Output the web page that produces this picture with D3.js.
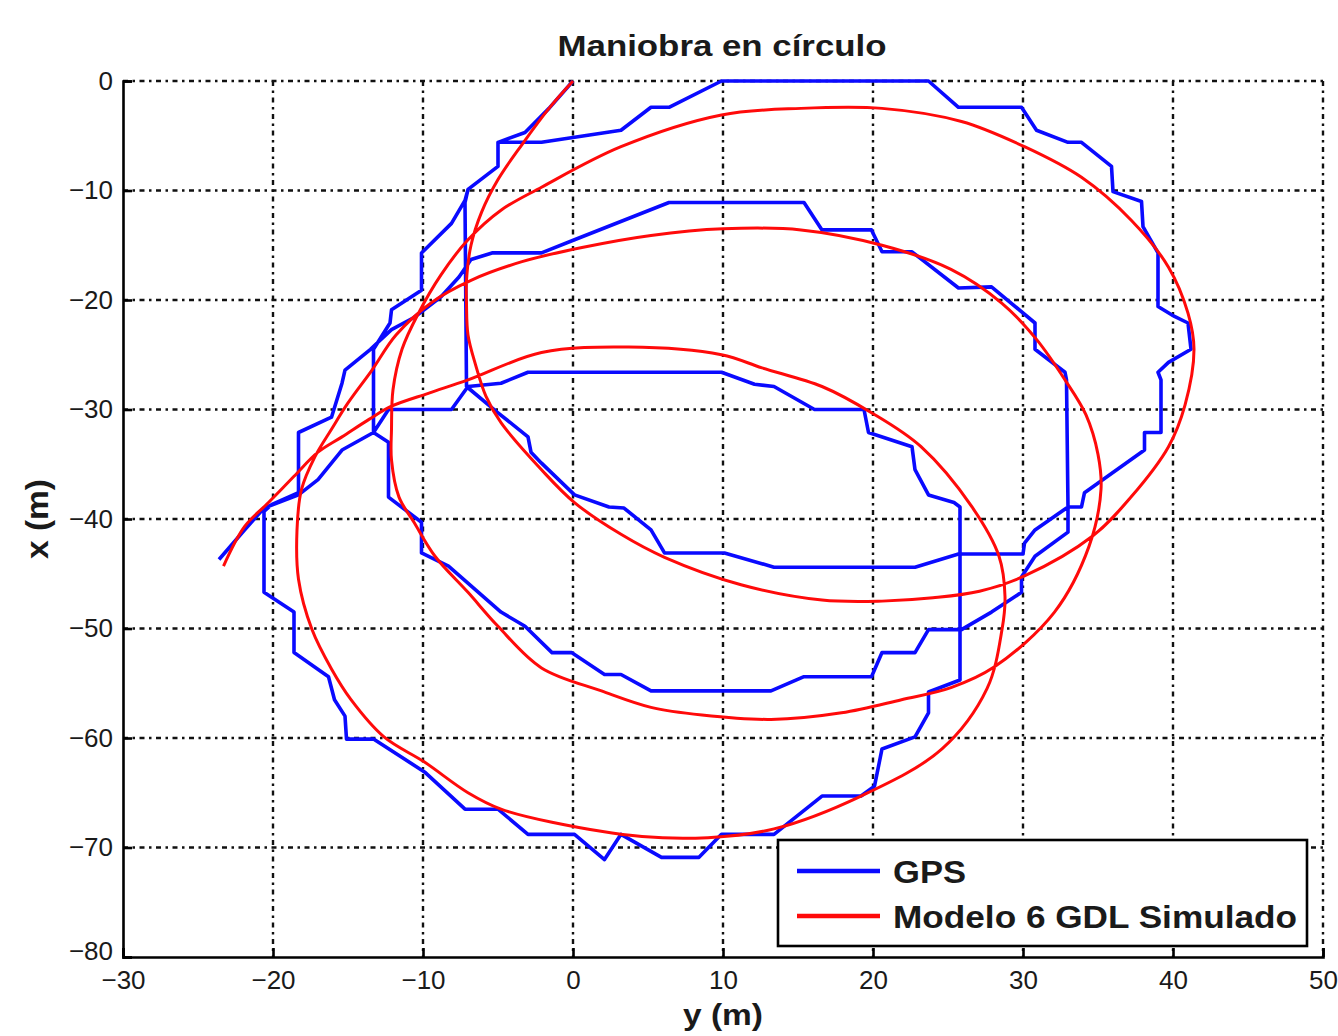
<!DOCTYPE html>
<html><head><meta charset="utf-8">
<script src="https://cdn.jsdelivr.net/npm/d3@7"></script>
<style>
html,body{margin:0;padding:0;background:#fff;}
svg text{font-family:"Liberation Sans",Arial,sans-serif;}
</style></head>
<body><svg id="c" width="1338" height="1036"></svg>
<script>
// ---- data: horizontal axis = y (m), vertical axis = x (m)
const title = "Maniobra en círculo";
const xLabel = "y (m)";
const yLabel = "x (m)";
const seriesNames = ["GPS", "Modelo 6 GDL Simulado"];
const yTicks = [-30,-20,-10,0,10,20,30,40,50];
const xTicks = [-80,-70,-60,-50,-40,-30,-20,-10,0];

const gpsY = [0,-1.6,-3.2,-5.0,-5.0,-7.0,-7.2,-7.1,-5.0,-3.0,-2.8,-2.1,0.1,2.4,3.4,5.2,6.1,10.1,13.4,22.8,25.7,30.0,30.1,30.8,33.0,33.9,34.1,38.1,38.1,39.2,39.2,39.0,39.7,41.2,41.0,40.1,39.0,39.0,38.0,37.9,36.0,35.9,33.9,33.0,30.9,29.9,25.7,23.7,9.9,6.4,5.2,3.2,-2.1,-5.0,-5.0,-7.0,-7.2,-8.1,-10.1,-10.1,-12.1,-12.2,-13.3,-13.3,-12.3,-12.3,-10.1,-10.1,-8.3,-4.8,-3.2,-1.4,-0.1,2.1,3.2,5.2,13.2,15.4,19.9,20.6,22.8,23.7,25.9,27.9,29.9,29.9,30.8,33.0,33.0,32.9,32.8,30.8,30.8,27.9,25.7,22.6,20.6,19.9,16.6,15.4,6.4,0.1,-2.1,-5.4,-6.8,-7.6,-8.8,-10.6,-12.1,-13.5,-15.2,-15.4,-16.1,-18.3,-18.3,-20.1,-20.6,-20.6,-18.6,-18.6,-16.3,-15.9,-15.2,-15.1,-13.3,-9.9,-7.2,-5.0,-3.0,0.1,2.1,3.2,5.9,8.4,9.9,13.4,16.6,19.2,20.1,20.6,22.8,23.7,23.7,25.8,25.8,25.4,23.7,22.8,22.6,19.7,19.4,16.1,13.4,12.1,9.9,-3.0,-4.8,-7.0,-8.1,-12.3,-13.3,-15.4,-17.0,-18.3,-20.6,-21.9,-23.6];
const gpsX = [0,-2.5,-4.7,-5.6,-7.8,-9.9,-11.1,-27.9,-30.3,-32.5,-33.9,-34.9,-37.8,-38.9,-39.0,-41.0,-43.1,-43.1,-44.4,-44.4,-43.2,-43.2,-42.2,-41.0,-38.9,-38.9,-37.6,-33.7,-32.1,-32.1,-27.3,-26.6,-25.7,-24.5,-22.1,-21.5,-20.6,-15.7,-13.3,-11.0,-10.1,-7.8,-5.6,-5.6,-4.5,-2.4,-2.4,0,0,-2.4,-2.4,-4.5,-5.6,-5.6,-7.8,-9.9,-10.9,-13.0,-15.7,-19.1,-20.9,-22.1,-24.5,-32.1,-33.0,-38.0,-40.3,-43.1,-44.3,-48.5,-49.8,-52.2,-52.2,-54.2,-54.2,-55.7,-55.7,-54.4,-54.4,-52.2,-52.2,-50.1,-50.1,-48.5,-46.7,-45.3,-43.4,-41.2,-38.9,-27.3,-26.6,-24.5,-22.1,-18.8,-18.9,-15.6,-15.6,-13.6,-13.6,-11.1,-11.1,-14.5,-15.7,-15.7,-16.3,-17.9,-19.7,-21.6,-22.7,-24.5,-26.4,-27.6,-30.7,-32.1,-37.6,-38.7,-39.3,-46.7,-48.5,-52.2,-54.4,-56.5,-58.0,-60.1,-60.1,-63.1,-66.5,-66.5,-68.8,-68.8,-71.1,-68.8,-70.9,-70.9,-68.8,-68.8,-65.3,-65.3,-64.4,-61.0,-59.9,-57.7,-55.8,-54.7,-38.9,-38.5,-37.8,-35.5,-33.4,-32.1,-30.0,-30.0,-27.9,-27.7,-26.6,-26.6,-27.6,-27.9,-30.0,-30.0,-32.1,-33.7,-36.4,-37.8,-39.0,-41.0,-43.7];

const simY = [0.0,-1.6,-3.4,-5.0,-6.1,-6.8,-7.1,-7.1,-7.0,-6.5,-5.8,-4.8,-2.1,0.1,3.2,6.1,11.2,16.6,20.6,24.0,27.1,30.1,34.6,37.2,39.7,40.8,41.4,41.0,39.7,37.2,33.9,30.1,25.9,20.6,15.2,9.9,3.2,-2.1,-4.8,-7.0,-8.8,-10.3,-11.4,-12.0,-12.1,-12.1,-11.6,-10.6,-9.2,-7.0,-5.0,-2.1,1.9,5.2,8.6,13.2,17.9,21.9,25.2,28.1,32.1,34.4,35.2,35.0,34.2,32.8,30.9,28.6,25.2,20.6,15.2,10.0,5.2,0.6,-3.4,-6.8,-9.4,-11.8,-13.4,-15.0,-16.1,-17.2,-18.1,-18.4,-18.3,-17.4,-16.1,-14.8,-12.6,-9.9,-7.0,-4.8,-1.4,4.6,9.0,13.4,19.2,24.6,27.6,28.6,28.8,28.4,26.6,23.2,19.9,16.6,12.6,9.9,3.7,-2.1,-7.0,-9.6,-12.1,-13.6,-15.4,-17.0,-18.6,-20.3,-21.9,-23.3];
const simX = [0.0,-2.5,-5.8,-9.0,-12.0,-15.0,-18.2,-20.4,-23.2,-25.9,-28.8,-31.2,-35.5,-38.5,-41.4,-43.5,-46.0,-47.4,-47.5,-47.2,-46.6,-45.2,-41.6,-38.0,-33.4,-29.6,-24.5,-21.2,-17.0,-12.7,-8.8,-6.0,-3.7,-2.5,-2.5,-3.1,-6.0,-9.7,-11.8,-14.5,-17.7,-21.2,-24.5,-28.2,-31.8,-34.6,-38.0,-40.3,-43.4,-46.7,-49.8,-53.6,-55.7,-57.2,-57.9,-58.3,-57.7,-56.5,-55.4,-53.5,-48.5,-42.5,-37.3,-34.1,-30.5,-27.3,-23.6,-20.3,-17.2,-15.0,-13.6,-13.5,-14.1,-15.2,-16.5,-18.2,-20.2,-23.2,-26.4,-29.4,-31.8,-34.3,-37.3,-41.0,-45.5,-50.1,-53.7,-56.5,-59.9,-62.2,-65.0,-66.5,-67.7,-69.0,-69.1,-68.3,-65.3,-61.0,-55.5,-50.1,-47.1,-43.4,-38.9,-33.4,-30.3,-27.9,-26.2,-25.0,-24.3,-24.8,-27.3,-28.5,-29.7,-30.9,-32.5,-33.9,-36.1,-38.5,-40.7,-44.3];

// ---- drawing
const L = 123, R = 1323, T = 81, B = 957;
const svg = d3.select("#c");
const sx = d3.scaleLinear().domain([-30,50]).range([L,R]);
const sy = d3.scaleLinear().domain([-80,0]).range([B,T]);

// grid (dash-dot dotted look)
const grid = svg.append("g").attr("stroke","#111").attr("stroke-width",2.4)
  .attr("stroke-dasharray","5,4.5,2.5,4.5");
grid.selectAll(".gv").data(yTicks.filter(d=>d>-30)).join("line")
  .attr("x1",d=>sx(d)).attr("x2",d=>sx(d)).attr("y1",T).attr("y2",B);
grid.selectAll(".gh").data(xTicks.filter(d=>d>-80)).join("line")
  .attr("y1",d=>sy(d)).attr("y2",d=>sy(d)).attr("x1",L).attr("x2",R);

// series
const pts = (ys,xs)=>ys.map((v,i)=>[v,xs[i]]);
svg.append("path").datum(pts(gpsY,gpsX))
  .attr("fill","none").attr("stroke","#0a0aff").attr("stroke-width",3.6)
  .attr("stroke-linejoin","round")
  .attr("d", d3.line().x(d=>sx(d[0])).y(d=>sy(d[1])));
svg.append("path").datum(pts(simY,simX))
  .attr("fill","none").attr("stroke","#ff0a0a").attr("stroke-width",3)
  .attr("d", d3.line().curve(d3.curveCatmullRom.alpha(0.5)).x(d=>sx(d[0])).y(d=>sy(d[1])));

// axes
const fmt = d=> d<0 ? "\u2212"+Math.abs(d) : String(d);
const ax = svg.append("g").attr("transform",`translate(0,${B})`)
  .call(d3.axisBottom(sx).tickValues(yTicks).tickSize(-9).tickPadding(14).tickFormat(fmt));
const ay = svg.append("g").attr("transform",`translate(${L},0)`)
  .call(d3.axisLeft(sy).tickValues(xTicks).tickSize(-9).tickPadding(10).tickFormat(fmt));
[ax,ay].forEach(g=>{
  g.select(".domain").attr("stroke","#000").attr("stroke-width",2.6);
  g.selectAll(".tick line").attr("stroke","#000").attr("stroke-width",2.6);
  g.selectAll(".tick text").attr("font-size",26).attr("fill","#1a1a1a")
    .attr("font-family","Liberation Sans, Arial, sans-serif");
});
ax.selectAll(".tick text").attr("dy","0.71em");
ay.selectAll(".tick text").filter(d=>d===-80).attr("dy","0.1em");

// titles
svg.append("text").attr("x",722).attr("y",56).attr("text-anchor","middle")
  .attr("font-size",30).attr("font-weight","bold").attr("fill","#1a1a1a")
  .attr("textLength",329).attr("lengthAdjust","spacingAndGlyphs").text(title);
svg.append("text").attr("x",723).attr("y",1025).attr("text-anchor","middle")
  .attr("font-size",29).attr("font-weight","bold").attr("fill","#1a1a1a")
  .attr("textLength",80).attr("lengthAdjust","spacingAndGlyphs").text(xLabel);
svg.append("text").attr("transform",`translate(48,${(T+B)/2}) rotate(-90)`).attr("text-anchor","middle")
  .attr("font-size",31).attr("font-weight","bold").attr("fill","#1a1a1a")
  .attr("textLength",80).attr("lengthAdjust","spacingAndGlyphs").text(yLabel);

// legend
const lg = svg.append("g");
lg.append("rect").attr("x",778).attr("y",840).attr("width",529).attr("height",106)
  .attr("fill","#fff").attr("stroke","#000").attr("stroke-width",2.6);
const colors = ["#0a0aff","#ff0a0a"];
const legendWidths = [73, 404];
seriesNames.forEach((n,i)=>{
  const yy = 871 + i*45;
  lg.append("line").attr("x1",797).attr("x2",880).attr("y1",yy).attr("y2",yy)
    .attr("stroke",colors[i]).attr("stroke-width",4.5);
  lg.append("text").attr("x",893).attr("y",yy+12).attr("font-size",32).attr("font-weight","bold")
    .attr("fill","#1a1a1a").attr("textLength",legendWidths[i]).attr("lengthAdjust","spacingAndGlyphs").text(n);
});
</script></body></html>
